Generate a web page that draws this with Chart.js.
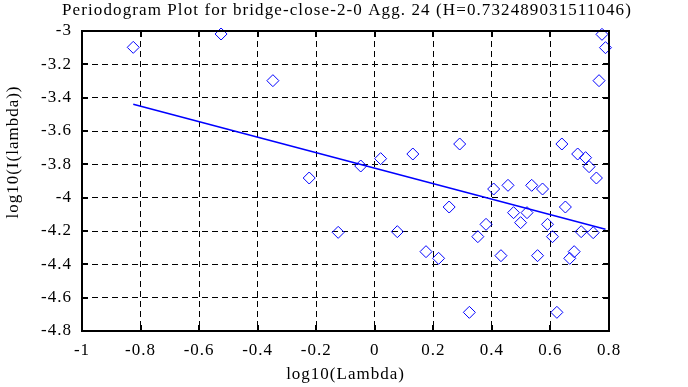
<!DOCTYPE html>
<html>
<head>
<meta charset="utf-8">
<script src="https://cdn.jsdelivr.net/npm/chart.js@4/dist/chart.umd.min.js"></script>
<style>
  body { margin: 0; background: #fff; }
  canvas { display: block; }
</style>
</head>
<body>
<canvas id="chart" width="688" height="387"></canvas>
<script>
// values
const lambdaX = [-0.825, -0.525, -0.348, -0.224, -0.125, -0.048, 0.020, 0.077, 0.130, 0.175,
  0.218, 0.254, 0.290, 0.323, 0.352, 0.380, 0.406, 0.431, 0.455, 0.474,
  0.498, 0.520, 0.536, 0.556, 0.573, 0.590, 0.607, 0.622, 0.639, 0.651,
  0.666, 0.681, 0.693, 0.705, 0.720, 0.732, 0.746, 0.757, 0.766, 0.776, 0.788];
const periodY = [-3.098, -3.018, -3.298, -3.882, -4.208, -3.810, -3.766, -4.204, -3.738, -4.324,
  -4.364, -4.056, -3.678, -4.688, -4.234, -4.160, -3.948, -4.348, -3.926, -4.090,
  -4.150, -4.090, -3.926, -4.348, -3.948, -4.160, -4.234, -4.688, -3.678, -4.056,
  -4.364, -4.324, -3.738, -4.204, -3.760, -3.814, -4.210, -3.882, -3.298, -3.020, -3.100];
const fitX = [-0.825, 0.788];
const fitY = [-3.44, -4.19];
const xTicks = [-1, -0.8, -0.6, -0.4, -0.2, 0, 0.2, 0.4, 0.6, 0.8];
const yTicks = [-3, -3.2, -3.4, -3.6, -3.8, -4, -4.2, -4.4, -4.6, -4.8];
const titleText = "Periodogram Plot for bridge-close-2-0 Agg. 24 (H=0.732489031511046)";

const serif = "'Liberation Serif', 'DejaVu Serif', serif";
const blue = "#0000ff";

// the old plot font is a little wider than Liberation Serif
const spacingPlugin = {
  id: "spacing",
  beforeDraw(chart) { chart.ctx.letterSpacing = "1px"; },
};

// frame, inward ticks, title and the y title
const framePlugin = {
  id: "frame",
  afterDraw(chart) {
    const { ctx, chartArea: a, scales } = chart;
    ctx.save();
    ctx.strokeStyle = "#000";
    ctx.lineWidth = 2;
    ctx.strokeRect(a.left, a.top, a.right - a.left, a.bottom - a.top);
    ctx.beginPath();
    xTicks.forEach(v => {
      const px = Math.round(scales.x.getPixelForValue(v));
      ctx.moveTo(px, a.bottom); ctx.lineTo(px, a.bottom - 6);
      ctx.moveTo(px, a.top); ctx.lineTo(px, a.top + 6);
    });
    yTicks.forEach(v => {
      const py = Math.round(scales.y.getPixelForValue(v));
      ctx.moveTo(a.left, py); ctx.lineTo(a.left + 6, py);
      ctx.moveTo(a.right, py); ctx.lineTo(a.right - 6, py);
    });
    ctx.stroke();

    ctx.fillStyle = "#000";
    ctx.font = "17px " + serif;
    ctx.letterSpacing = "1.1px";
    ctx.textAlign = "center";
    ctx.textBaseline = "middle";
    ctx.fillText(titleText, 347, 11);

    ctx.letterSpacing = "1px";
    ctx.translate(14, 152);
    ctx.rotate(-Math.PI / 2);
    ctx.fillText("log10(I(lambda))", 0, 0);
    ctx.restore();
  }
};

const fmt = v => String(Math.round(v * 10) / 10);

new Chart(document.getElementById("chart"), {
  type: "scatter",
  data: {
    datasets: [
      {
        label: "fit",
        data: fitX.map((x, i) => ({ x, y: fitY[i] })),
        showLine: true,
        borderColor: blue,
        borderWidth: 1.5,
        pointRadius: 0,
      },
      {
        label: "periodogram",
        data: lambdaX.map((x, i) => ({ x, y: periodY[i] })),
        pointStyle: "rectRot",
        pointRadius: 6,
        borderColor: blue,
        backgroundColor: "rgba(0,0,0,0)",
        borderWidth: 1,
        clip: false,
      },
    ],
  },
  options: {
    responsive: false,
    animation: false,
    devicePixelRatio: 1,
    layout: { padding: { left: 0, right: 79, top: 31, bottom: 0 } },
    plugins: {
      legend: { display: false },
      tooltip: { enabled: false },
      title: { display: false },
    },
    scales: {
      x: {
        type: "linear",
        min: -1,
        max: 0.8,
        afterBuildTicks: s => { s.ticks = xTicks.map(value => ({ value })); },
        afterFit: s => { s.height = 56; },
        ticks: { color: "#000", padding: 9, font: { family: serif, size: 17 }, callback: fmt, maxRotation: 0 },
        grid: { color: "#000", lineWidth: 1, drawTicks: false },
        border: { display: false, dash: [6, 4] },
        title: {
          display: true,
          text: "log10(Lambda)",
          color: "#000",
          font: { family: serif, size: 17 },
          padding: { top: 0, bottom: 1.8 },
        },
      },
      y: {
        type: "linear",
        min: -4.8,
        max: -3,
        afterBuildTicks: s => { s.ticks = yTicks.map(value => ({ value })); },
        afterFit: s => { s.width = 82; },
        ticks: { color: "#000", padding: 10, font: { family: serif, size: 17 }, callback: fmt },
        grid: { color: "#000", lineWidth: 1, drawTicks: false },
        border: { display: false, dash: [6, 4] },
      },
    },
  },
  plugins: [spacingPlugin, framePlugin],
});
</script>
</body>
</html>
